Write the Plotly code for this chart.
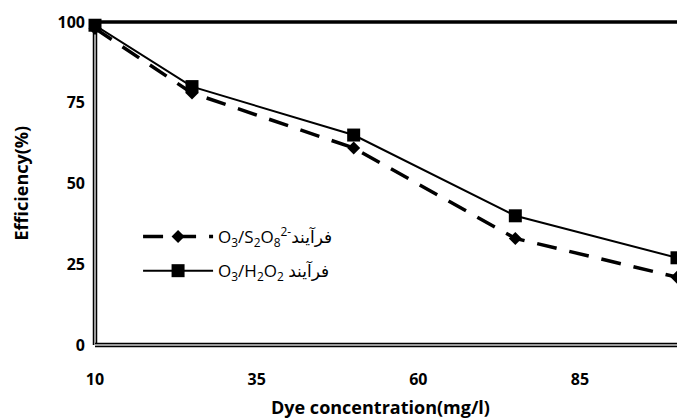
import plotly.graph_objects as go

concentration = [10, 25, 50, 75, 100]
eff_persulfate = [98, 78, 61, 33, 21]
eff_peroxide = [99, 80, 65, 40, 27]
x_ticks = [10, 35, 60, 85]
y_ticks = [0, 25, 50, 75, 100]
name_persulfate = "O<sub>3</sub>/S<sub>2</sub>O<sub>8</sub><sup>2-</sup>فرآیند"
name_peroxide = "O<sub>3</sub>/H<sub>2</sub>O<sub>2</sub> فرآیند"

FONT = "'Open Sans', 'DejaVu Sans', sans-serif"

fig = go.Figure()
fig.add_trace(go.Scatter(
    x=concentration, y=eff_persulfate, name=name_persulfate, mode="lines+markers",
    legendgroup="a",
    line=dict(color="black", width=3.5, dash="20px,13px"),
    marker=dict(symbol="diamond", size=10, color="black"),
    cliponaxis=False,
))
fig.add_trace(go.Scatter(
    x=concentration, y=eff_peroxide, name=name_peroxide, mode="lines+markers",
    legendgroup="b",
    line=dict(color="black", width=2),
    marker=dict(symbol="square", size=13, color="black"),
    cliponaxis=False,
))

# axis frame lines (double-line look)
for (x0, y0, x1, y1) in [(0, 0, 0, 1), (0, 0, 1, 0)]:
    fig.add_shape(type="line", xref="paper", yref="paper", x0=x0, y0=y0, x1=x1, y1=y1,
                  line=dict(color="black", width=4.5), layer="below")
    fig.add_shape(type="line", xref="paper", yref="paper", x0=x0, y0=y0, x1=x1, y1=y1,
                  line=dict(color="#9a9a9a", width=2), layer="below")
fig.add_shape(type="line", xref="paper", yref="paper", x0=0, y0=1, x1=1, y1=1,
              line=dict(color="black", width=3.5), layer="below")

fig.update_layout(
    width=677, height=418,
    margin=dict(l=95, r=0, t=22, b=73, autoexpand=False),
    paper_bgcolor="white", plot_bgcolor="white",
    font=dict(family=FONT, color="black"),
    showlegend=True,
    legend=dict(x=0.074, y=0.39, xanchor="left", yanchor="top",
                bgcolor="rgba(0,0,0,0)", font=dict(size=17, family=FONT),
                itemwidth=70, tracegroupgap=9),
    xaxis=dict(range=[10, 100], tickvals=x_ticks, ticks="", showgrid=False, zeroline=False,
               showline=False, automargin=False,
               tickfont=dict(size=16, family=FONT, weight="bold"),
               ticklabelstandoff=23),
    yaxis=dict(range=[0, 100], tickvals=y_ticks, ticks="", showgrid=False, zeroline=False,
               showline=False, automargin=False,
               tickfont=dict(size=16, family=FONT, weight="bold"),
               ticklabelstandoff=9),
)
fig.add_annotation(text="<b>Dye concentration(mg/l)</b>", xref="paper", yref="paper",
                   x=0.49, y=0, yshift=-62, showarrow=False, xanchor="center", yanchor="middle",
                   font=dict(size=18, family=FONT))
fig.add_annotation(text="<b>Efficiency(%)</b>", xref="paper", yref="paper",
                   x=0, xshift=-75, y=0.5, textangle=-90, showarrow=False,
                   xanchor="center", yanchor="middle", font=dict(size=18, family=FONT))

fig.write_html("out.html", config={"displayModeBar": False},
               post_script="document.body.style.margin='0';document.body.style.overflow='hidden';")
